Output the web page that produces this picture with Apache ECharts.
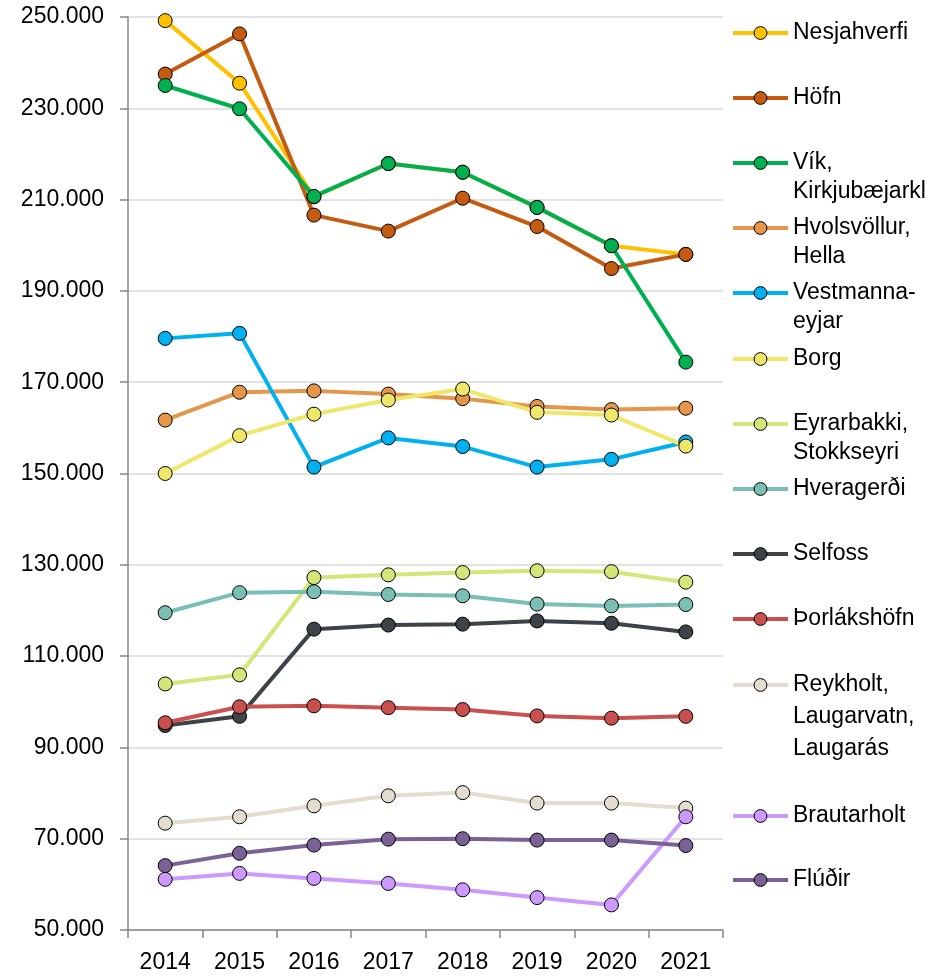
<!DOCTYPE html>
<html>
<head>
<meta charset="utf-8">
<script src="https://cdn.jsdelivr.net/npm/echarts@6/dist/echarts.min.js"></script>
<style>
  html, body { margin: 0; padding: 0; background: #fff; }
  #chart { width: 948px; height: 976px; }
</style>
</head>
<body>
<div id="chart"></div>
<script>
// data
var years = ['2014', '2015', '2016', '2017', '2018', '2019', '2020', '2021'];

var nesjahverfi = [249200, 235500, 210600, 217900, 216000, 208300, 199900, 198000];
var hofn        = [237500, 246300, 206600, 203100, 210300, 204100, 194900, 198000];
var vik         = [235000, 229900, 210700, 217900, 216000, 208300, 199900, 174400];
var hvolsvollur = [161700, 167800, 168100, 167400, 166400, 164700, 164000, 164300];
var vestmanna   = [179600, 180700, 151400, 157800, 155900, 151400, 153100, 156900];
var borg        = [150000, 158300, 163000, 166100, 168500, 163400, 162800, 156000];
var eyrarbakki  = [103900, 105900, 127200, 127800, 128300, 128700, 128500, 126200];
var hveragerdi  = [119500, 123900, 124100, 123500, 123200, 121400, 121000, 121300];
var selfoss     = [94800, 96800, 115900, 116800, 117000, 117700, 117200, 115300];
var thorlaks    = [95400, 98900, 99100, 98700, 98300, 96900, 96400, 96800];
var reykholt    = [73400, 74800, 77200, 79400, 80100, 77800, 77800, 76700];
var brautarholt = [61100, 62400, 61300, 60200, 58800, 57100, 55500, 74800];
var fludir      = [64100, 66800, 68600, 69900, 70000, 69700, 69700, 68500];

var names = ['Nesjahverfi', 'Höfn', 'Vík, Kirkjubæjarkl', 'Hvolsvöllur, Hella', 'Vestmanna-eyjar',
  'Borg', 'Eyrarbakki, Stokkseyri', 'Hveragerði', 'Selfoss', 'Þorlákshöfn',
  'Reykholt, Laugarvatn, Laugarás', 'Brautarholt', 'Flúðir'];
var legendLabels = [['Nesjahverfi'], ['Höfn'], ['Vík,', 'Kirkjubæjarkl'], ['Hvolsvöllur,', 'Hella'],
  ['Vestmanna-', 'eyjar'], ['Borg'], ['Eyrarbakki,', 'Stokkseyri'], ['Hveragerði'], ['Selfoss'],
  ['Þorlákshöfn'], ['Reykholt,', 'Laugarvatn,', 'Laugarás'], ['Brautarholt'], ['Flúðir']];
var values = [nesjahverfi, hofn, vik, hvolsvollur, vestmanna, borg, eyrarbakki,
  hveragerdi, selfoss, thorlaks, reykholt, brautarholt, fludir];
var colors = ['#FFC000', '#C55A11', '#00B050', '#E6964A', '#00B0F0', '#EEE76A', '#D4E677',
  '#7ABFB3', '#3E4347', '#C9504F', '#E2DDCF', '#CC99FF', '#7A6196'];

// legend row centres (layout)
var legendY = [33, 98, 163, 228, 293, 359, 424, 489, 554, 619, 685, 816, 880];

var font = '"Liberation Sans", Arial, sans-serif';

var series = names.map(function (n, i) {
  return {
    name: n,
    type: 'line',
    data: values[i],
    symbol: 'circle',
    symbolSize: 14,
    lineStyle: { width: 4, color: colors[i] },
    itemStyle: { color: colors[i], borderColor: '#000', borderWidth: 1 },
    emphasis: { disabled: true }
  };
});

var legends = names.map(function (n, i) {
  var lines = legendLabels[i];
  var lh = lines.length > 2 ? 32 : 29;
  // pad with empty lines on top so the first line sits level with the icon
  var pad = [];
  for (var k = 1; k < lines.length; k++) pad.push('');
  var label = pad.concat(lines).join('\n');
  var total = (pad.length + lines.length) * lh;
  return {
    data: [n],
    orient: 'vertical',
    left: 731,
    top: legendY[i] - total / 2,
    padding: 0,
    itemWidth: 55,
    itemHeight: 16,
    itemGap: 4,
    selectedMode: false,
    lineStyle: { width: 4 },
    itemStyle: { borderColor: '#000', borderWidth: 1 },
    formatter: function () { return label; },
    textStyle: { fontFamily: font, fontSize: 23, color: '#000', lineHeight: lh }
  };
});

var chart = echarts.init(document.getElementById('chart'));
chart.setOption({
  animation: false,
  color: colors,
  legend: legends,
  grid: { left: 128, right: 225, top: 17, bottom: 46, containLabel: false },
  xAxis: {
    type: 'category',
    data: years,
    boundaryGap: true,
    axisLine: { lineStyle: { color: '#878787', width: 1.5 } },
    axisTick: { show: true, length: 8, lineStyle: { color: '#878787', width: 1.5 } },
    axisLabel: { fontFamily: font, fontSize: 23, color: '#000', margin: 21 }
  },
  yAxis: {
    type: 'value',
    min: 50000,
    max: 250000,
    interval: 20000,
    axisLine: { show: true, lineStyle: { color: '#878787', width: 1.5 } },
    axisTick: { show: true, length: 8, lineStyle: { color: '#878787', width: 1.5 } },
    splitLine: { lineStyle: { color: '#D9D9D9', width: 1.5 } },
    axisLabel: {
      fontFamily: font, fontSize: 23, color: '#000', margin: 24,
      formatter: function (v) { return v.toLocaleString('de-DE'); }
    }
  },
  series: series
});
</script>
</body>
</html>
